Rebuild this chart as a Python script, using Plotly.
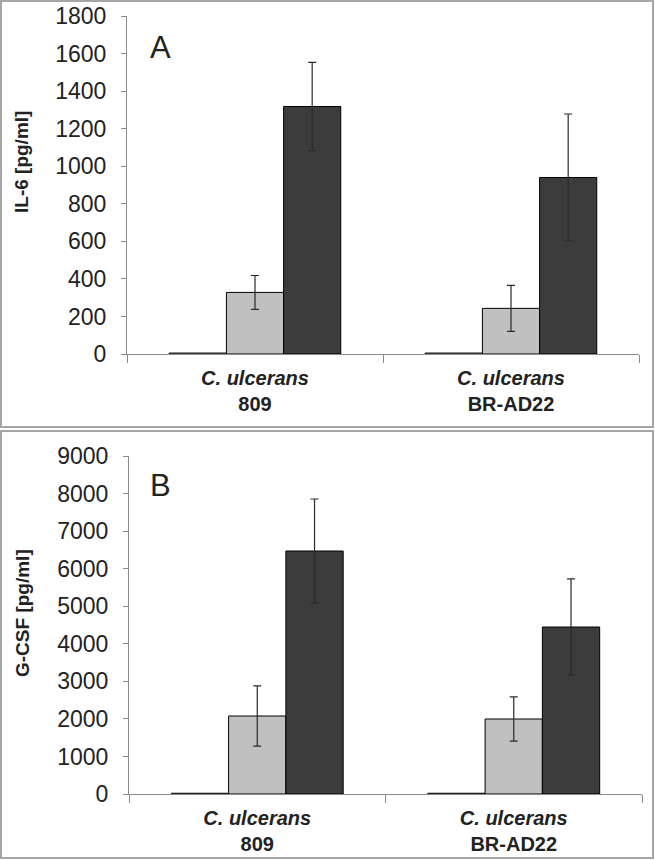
import plotly.graph_objects as go

W, H = 655, 860

categories = ["<b><i>C. ulcerans</i><br>809</b>", "<b><i>C. ulcerans</i><br>BR-AD22</b>"]
series_names = ["control", "treatment 1", "treatment 2"]
series_colors = ["#ffffff", "#c0c0c0", "#3c3c3c"]

il6_values = [[5, 5], [328, 243], [1318, 940]]
il6_errors = [[0, 0], [90, 122], [235, 338]]

gcsf_values = [[20, 20], [2077, 1997], [6470, 4446]]
gcsf_errors = [[0, 0], [800, 590], [1385, 1280]]

il6_ticks = list(range(0, 1801, 200))
gcsf_ticks = list(range(0, 9001, 1000))


def px(x):
    return x / W


def py(y):
    return 1 - y / H


fig = go.Figure()

for i in range(3):
    fig.add_trace(go.Bar(
        x=categories, y=il6_values[i], name=series_names[i],
        marker=dict(color=series_colors[i], line=dict(color="#000000", width=1)),
        error_y=dict(type="data", array=il6_errors[i], visible=il6_errors[i][0] > 0,
                     color="#2a2a2a", thickness=1.2, width=4),
        xaxis="x", yaxis="y", showlegend=False,
    ))
    fig.add_trace(go.Bar(
        x=categories, y=gcsf_values[i], name=series_names[i],
        marker=dict(color=series_colors[i], line=dict(color="#000000", width=1)),
        error_y=dict(type="data", array=gcsf_errors[i], visible=gcsf_errors[i][0] > 0,
                     color="#2a2a2a", thickness=1.2, width=4),
        xaxis="x2", yaxis="y2", showlegend=False,
    ))

axis_color = "#8a8a8a"
FONT = "Liberation Sans, Arial"
tick_font = dict(family=FONT, size=23, color="#222222")
cat_font = dict(family=FONT, size=20, color="#222222")

xcommon = dict(type="category", showline=True, linecolor=axis_color, linewidth=1,
               ticks="outside", tickson="boundaries", ticklen=8, tickcolor=axis_color,
               tickfont=cat_font, showgrid=False, zeroline=False, fixedrange=True,
               ticklabelstandoff=6, automargin=False)
ycommon = dict(showline=True, linecolor=axis_color, linewidth=1, ticks="outside",
               ticklen=5, tickcolor=axis_color, tickfont=tick_font, showgrid=False,
               zeroline=False, ticklabelstandoff=10, automargin=False, fixedrange=True)


def label(text, x, y, size, angle=0):
    return dict(text=text, xref="paper", yref="paper", x=px(x), y=py(y),
                xanchor="center", yanchor="middle", textangle=angle, showarrow=False,
                font=dict(family=FONT, size=size, color="#222222"))


fig.update_layout(
    width=W, height=H,
    margin=dict(l=0, r=0, t=0, b=0, autoexpand=False),
    paper_bgcolor="white", plot_bgcolor="white",
    barmode="group", bargap=0.33, bargroupgap=0,
    xaxis=dict(domain=[px(127), px(639)], anchor="y", **xcommon),
    yaxis=dict(domain=[py(354), py(16)], anchor="x", range=[0, 1800],
               tickvals=il6_ticks, **ycommon),
    xaxis2=dict(domain=[px(129), px(642)], anchor="y2", **xcommon),
    yaxis2=dict(domain=[py(794), py(456)], anchor="x2", range=[0, 9000],
                tickvals=gcsf_ticks, **ycommon),
    shapes=[
        dict(type="rect", xref="paper", yref="paper", x0=px(1), x1=px(653),
             y0=py(427), y1=py(1), line=dict(color="#a6a6a6", width=2)),
        dict(type="rect", xref="paper", yref="paper", x0=px(1), x1=px(653),
             y0=py(858), y1=py(431), line=dict(color="#a6a6a6", width=2)),
    ],
    annotations=[
        label("<b>IL-6 [pg/ml]</b>", 22, 162, 19, -90),
        label("<b>G-CSF [pg/ml]</b>", 22, 613, 19, -90),
        label("A", 160, 47, 31),
        label("B", 160, 485, 31),
    ],
)

fig.write_html("out.html", config={"displayModeBar": False},
               post_script="document.body.style.margin='0px';")
